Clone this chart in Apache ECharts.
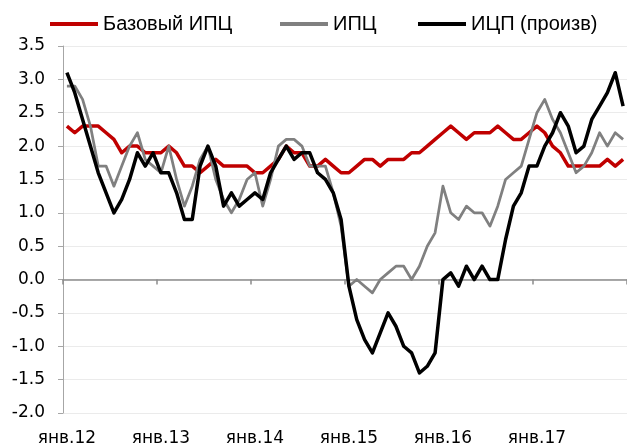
<!DOCTYPE html>
<html>
<head>
<meta charset="utf-8">
<script src="https://cdn.jsdelivr.net/npm/echarts@6/dist/echarts.min.js"></script>
<style>
  html, body { margin: 0; padding: 0; background: #fff; }
  #chart { width: 627px; height: 448px; }
</style>
</head>
<body>
<div id="chart"></div>
<script>
// Month names and years used to build the monthly categories (Jan 2012 – Dec 2017)
const monthNames = ['янв', 'фев', 'мар', 'апр', 'май', 'июн', 'июл', 'авг', 'сен', 'окт', 'ноя', 'дек'];
const yearLabels = ['12', '13', '14', '15', '16', '17'];
const categories = [];
yearLabels.forEach(y => monthNames.forEach(m => categories.push(m + '.' + y)));

// Series names
const seriesNames = ['Базовый ИПЦ', 'ИПЦ', 'ИЦП (произв)'];

// Базовый ИПЦ (core CPI), % y/y
const coreCpi = [
  2.3, 2.2, 2.3, 2.3, 2.3, 2.2, 2.1, 1.9, 2.0, 2.0, 1.9, 1.9,
  1.9, 2.0, 1.9, 1.7, 1.7, 1.6, 1.7, 1.8, 1.7, 1.7, 1.7, 1.7,
  1.6, 1.6, 1.7, 1.8, 2.0, 1.9, 1.9, 1.7, 1.7, 1.8, 1.7, 1.6,
  1.6, 1.7, 1.8, 1.8, 1.7, 1.8, 1.8, 1.8, 1.9, 1.9, 2.0, 2.1,
  2.2, 2.3, 2.2, 2.1, 2.2, 2.2, 2.2, 2.3, 2.2, 2.1, 2.1, 2.2,
  2.3, 2.2, 2.0, 1.9, 1.7, 1.7, 1.7, 1.7, 1.7, 1.8, 1.7, 1.8
];

// ИПЦ (CPI), % y/y
const cpi = [
  2.9, 2.9, 2.7, 2.3, 1.7, 1.7, 1.4, 1.7, 2.0, 2.2, 1.8, 1.7,
  1.6, 2.0, 1.5, 1.1, 1.4, 1.8, 2.0, 1.5, 1.2, 1.0, 1.2, 1.5,
  1.6, 1.1, 1.5, 2.0, 2.1, 2.1, 2.0, 1.7, 1.7, 1.7, 1.3, 0.8,
  -0.1, 0.0, -0.1, -0.2, 0.0, 0.1, 0.2, 0.2, 0.0, 0.2, 0.5, 0.7,
  1.4, 1.0, 0.9, 1.1, 1.0, 1.0, 0.8, 1.1, 1.5, 1.6, 1.7, 2.1,
  2.5, 2.7, 2.4, 2.2, 1.9, 1.6, 1.7, 1.9, 2.2, 2.0, 2.2, 2.1
];

// ИЦП (произв) (PPI), % y/y
const ppi = [
  3.1, 2.8, 2.4, 2.0, 1.6, 1.3, 1.0, 1.2, 1.5, 1.9, 1.7, 1.9,
  1.6, 1.6, 1.3, 0.9, 0.9, 1.7, 2.0, 1.7, 1.1, 1.3, 1.1, 1.2,
  1.3, 1.2, 1.6, 1.8, 2.0, 1.8, 1.9, 1.9, 1.6, 1.5, 1.3, 0.9,
  -0.1, -0.6, -0.9, -1.1, -0.8, -0.5, -0.7, -1.0, -1.1, -1.4, -1.3, -1.1,
  0.0, 0.1, -0.1, 0.2, 0.0, 0.2, 0.0, 0.0, 0.6, 1.1, 1.3, 1.7,
  1.7, 2.0, 2.2, 2.5, 2.3, 1.9, 2.0, 2.4, 2.6, 2.8, 3.1, 2.6
];

// Y axis range
const yMin = -2.0, yMax = 3.5, yStep = 0.5;

const colors = ['#c00000', '#808080', '#000000'];
const widths = [3.5, 2.75, 3.5];
const seriesData = [coreCpi, cpi, ppi];

const axisFont = 'DejaVu Sans';
const legendFont = 'Liberation Sans';
const legendLefts = [50, 280, 418];

const chart = echarts.init(document.getElementById('chart'), null, { renderer: 'canvas' });
chart.setOption({
  animation: false,
  backgroundColor: '#ffffff',
  grid: { left: 63, right: -3, top: 46, bottom: 35, containLabel: false },
  legend: seriesNames.map((n, i) => ({
    data: [n],
    left: legendLefts[i],
    top: 14,
    padding: 0,
    icon: 'rect',
    itemWidth: 48,
    itemHeight: 4,
    textStyle: { fontFamily: legendFont, fontSize: 20, color: '#000' }
  })),
  xAxis: [
    {
      type: 'category',
      data: categories,
      boundaryGap: true,
      position: 'bottom',
      axisLine: { show: true, onZero: true, lineStyle: { color: '#8c8c8c', width: 1.5 } },
      axisTick: { show: true, interval: 11, length: 5, lineStyle: { color: '#8c8c8c', width: 1.5 } },
      axisLabel: { show: false },
      splitLine: { show: false }
    },
    {
      type: 'category',
      data: categories,
      boundaryGap: true,
      position: 'bottom',
      axisLine: { show: false, onZero: false },
      axisTick: { show: false },
      axisLabel: { show: true, interval: 11, margin: 17, fontFamily: axisFont, fontSize: 17, color: '#000' },
      splitLine: { show: false }
    }
  ],
  yAxis: {
    type: 'value',
    min: yMin,
    max: yMax,
    interval: yStep,
    axisLine: { show: true, lineStyle: { color: '#a6a6a6', width: 1 } },
    axisTick: { show: true, length: 5, lineStyle: { color: '#a6a6a6' } },
    axisLabel: { formatter: v => v.toFixed(1), margin: 18, fontFamily: axisFont, fontSize: 17, color: '#000' },
    splitLine: { show: true, lineStyle: { color: '#ebebeb', width: 1 } }
  },
  series: seriesNames.map((n, i) => ({
    name: n,
    type: 'line',
    xAxisIndex: 0,
    data: seriesData[i],
    symbol: 'none',
    showSymbol: false,
    lineStyle: { color: colors[i], width: widths[i], join: 'round' },
    itemStyle: { color: colors[i] }
  }))
});
</script>
</body>
</html>
